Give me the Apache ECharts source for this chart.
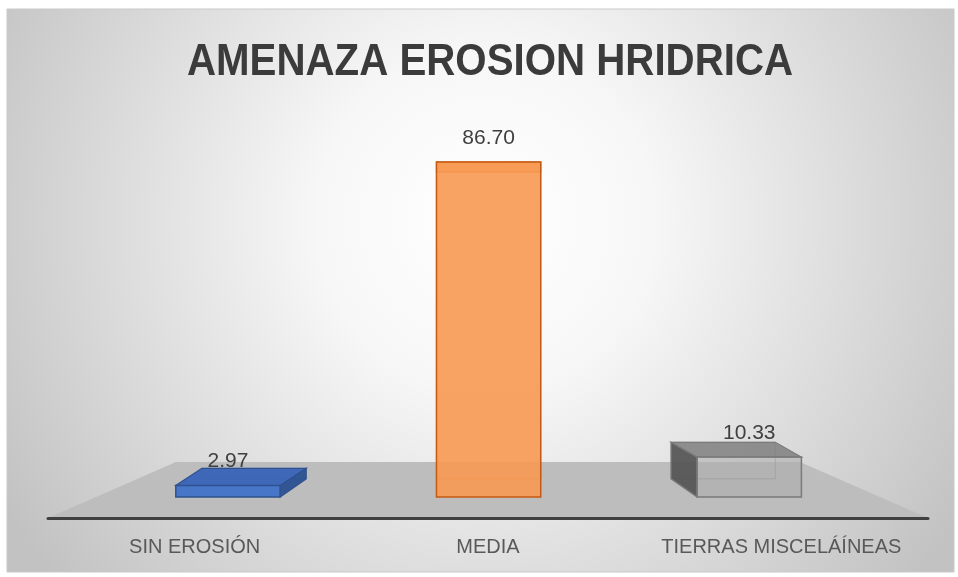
<!DOCTYPE html>
<html>
<head>
<meta charset="utf-8">
<script src="https://cdn.jsdelivr.net/npm/echarts@6/dist/echarts.min.js"></script>
<style>
  html, body { margin: 0; padding: 0; background: #ffffff; }
  #chart { width: 958px; height: 577px; }
</style>
</head>
<body>
<div id="chart"></div>
<script>
// Categories and values of the chart
const categories = ['SIN EROSIÓN', 'MEDIA', 'TIERRAS MISCELÁÍNEAS'];
const values = [2.97, 86.70, 10.33];
const chartTitle = 'AMENAZA EROSION HRIDRICA';

// Face colours of each 3D box (front, top, side, back outline, edges)
const boxStyles = [
  { front: 'rgba(66,114,200,0.96)', top: 'rgba(58,100,184,0.96)', side: 'rgba(44,80,146,0.96)', back: 'rgba(47,82,143,0.5)', edge: '#2F528F' },
  { front: 'rgba(247,152,82,0.90)', top: 'rgba(251,178,122,0.95)', side: 'rgba(226,120,50,0.9)', back: 'rgba(197,90,17,0.45)', edge: '#C55A11' },
  { front: 'rgba(172,172,172,0.55)', top: 'rgba(130,130,130,0.88)', side: 'rgba(84,84,84,0.92)', back: 'rgba(120,120,120,0.5)', edge: '#7a7a7a' }
];

// Perspective of the 3D boxes
const DEPTH_X = 0.1;     // horizontal shift of the back face per px from the centre
const EYE_Y = 281;       // horizon line in px
const DEPTH_Y = 0.916;   // vertical shrink of the back face toward the horizon

const FONT = '"Liberation Sans", Arial, sans-serif';

const chart = echarts.init(document.getElementById('chart'), null, { renderer: 'canvas' });

function renderBox(params, api) {
  const idx = api.value(0);
  const v = api.value(1);
  const topPt = api.coord([idx, v]);
  const basePt = api.coord([idx, 0]);
  const bw = api.size([1, 0])[0] * 0.4;
  const cx = topPt[0];
  const x0 = cx - bw / 2, x1 = cx + bw / 2;
  const y0 = topPt[1], y1 = basePt[1];
  const cs = params.coordSys;
  const vx = cs.x + cs.width / 2;
  const dx = DEPTH_X * (vx - cx);
  const by = y => EYE_Y + (y - EYE_Y) * DEPTH_Y;
  const bx0 = x0 + dx, bx1 = x1 + dx, by0 = by(y0), by1 = by(y1);
  const st = boxStyles[idx];
  const children = [];

  // back face outline, seen through the translucent front
  children.push({
    type: 'polygon',
    shape: { points: [[bx0, by0], [bx1, by0], [bx1, by1], [bx0, by1]] },
    style: { fill: 'rgba(0,0,0,0)', stroke: st.back, lineWidth: 1 }
  });
  // side face toward the depth direction
  if (dx > 0.5) {
    children.push({
      type: 'polygon',
      shape: { points: [[x1, y0], [bx1, by0], [bx1, by1], [x1, y1]] },
      style: { fill: st.side, stroke: st.edge, lineWidth: 1.2 }
    });
  } else if (dx < -0.5) {
    children.push({
      type: 'polygon',
      shape: { points: [[x0, y0], [bx0, by0], [bx0, by1], [x0, y1]] },
      style: { fill: st.side, stroke: st.edge, lineWidth: 1.2 }
    });
  }
  // top face
  children.push({
    type: 'polygon',
    shape: { points: [[x0, y0], [x1, y0], [bx1, by0], [bx0, by0]] },
    style: { fill: st.top, stroke: st.edge, lineWidth: 1.2 }
  });
  // front face
  children.push({
    type: 'rect',
    shape: { x: x0, y: y0, width: x1 - x0, height: y1 - y0 },
    style: { fill: st.front, stroke: st.edge, lineWidth: 1.5 }
  });
  // value label
  children.push({
    type: 'text',
    style: {
      x: cx, y: y0 - 24,
      text: v.toFixed(2),
      fill: '#404040',
      font: '21px ' + FONT,
      textAlign: 'center',
      textVerticalAlign: 'middle'
    },
    z2: 10
  });
  return { type: 'group', children: children };
}

const option = {
  backgroundColor: '#ffffff',
  animation: false,
  graphic: [
    {
      type: 'rect',
      z: -20,
      shape: { x: 7, y: 9, width: 947, height: 563 },
      style: {
        fill: new echarts.graphic.RadialGradient(485, 220, 560, [
          { offset: 0, color: '#ffffff' },
          { offset: 0.3, color: '#f7f7f7' },
          { offset: 1, color: '#c2c2c2' }
        ], true),
        stroke: '#c9c9c9',
        lineWidth: 1
      }
    },
    {
      // floor of the 3D plot
      type: 'polygon',
      z: -10,
      shape: { points: [[48, 518], [928, 518], [800, 462], [176, 462]] },
      style: { fill: '#bdbdbd' }
    },
    {
      type: 'text',
      z: 5,
      x: 490,
      y: 63,
      scaleX: 0.915,
      style: {
        text: chartTitle,
        fill: '#3b3b3b',
        font: 'bold 44px ' + FONT,
        textAlign: 'center',
        textVerticalAlign: 'middle'
      }
    }
  ],
  grid: [
    { left: 97.6, right: 78.4, top: 110.6, bottom: 80 },
    { left: 48, right: 30, top: 460, bottom: 59 }
  ],
  xAxis: [
    { gridIndex: 0, type: 'category', data: categories, show: false },
    {
      gridIndex: 1, type: 'category', data: categories,
      axisLine: { lineStyle: { color: '#404040', width: 3 } },
      axisTick: { show: false },
      splitLine: { show: false },
      axisLabel: { interval: 0, fontSize: 20, color: '#595959', margin: 19, fontFamily: FONT }
    }
  ],
  yAxis: [
    { gridIndex: 0, type: 'value', min: 0, max: 100, show: false },
    { gridIndex: 1, type: 'value', min: 0, max: 1, show: false }
  ],
  series: [
    {
      type: 'custom',
      xAxisIndex: 0,
      yAxisIndex: 0,
      z: 3,
      renderItem: renderBox,
      data: values.map((v, i) => [i, v])
    }
  ]
};

chart.setOption(option);
</script>
</body>
</html>
